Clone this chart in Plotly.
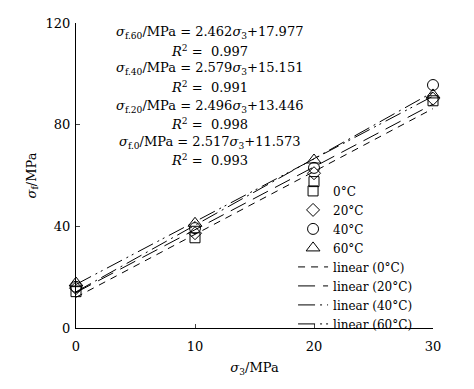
import numpy as np
import plotly.graph_objects as go

sigma3 = [0, 10, 20, 30]
temps = ["0°C", "20°C", "40°C", "60°C"]
sf_0 = [14.3, 35.5, 57.6, 89.4]
sf_20 = [15.7, 37.3, 60.9, 90.2]
sf_40 = [16.2, 39.3, 63.0, 95.6]
sf_60 = [17.7, 41.2, 66.1, 91.7]
series = [sf_0, sf_20, sf_40, sf_60]

eq_labels = [
    "<i>σ</i><sub>f.60</sub>/MPa = 2.462<i>σ</i><sub>3</sub>+17.977",
    "<i>R</i><sup>2</sup> =  0.997",
    "<i>σ</i><sub>f.40</sub>/MPa = 2.579<i>σ</i><sub>3</sub>+15.151",
    "<i>R</i><sup>2</sup> =  0.991",
    "<i>σ</i><sub>f.20</sub>/MPa = 2.496<i>σ</i><sub>3</sub>+13.446",
    "<i>R</i><sup>2</sup> =  0.998",
    "<i>σ</i><sub>f.0</sub>/MPa = 2.517<i>σ</i><sub>3</sub>+11.573",
    "<i>R</i><sup>2</sup> =  0.993",
]

symbols = ["square-open", "diamond-open", "circle-open", "triangle-up-open"]
sizes = [10, 10, 11, 12]
dashes = ["7px,6px", "17px,8px", "17px,5px,2px,5px", "17px,5px,2px,4px,2px,5px"]

FONT = "DejaVu Serif, Liberation Serif, serif"

fig = go.Figure()
for t, ys, sym, sz in zip(temps, series, symbols, sizes):
    fig.add_trace(go.Scatter(
        x=sigma3, y=ys, mode="markers", name=t,
        marker=dict(symbol=sym, size=sz, color="black", line=dict(width=1, color="black")),
        cliponaxis=False,
    ))
for t, ys, d in zip(temps, series, dashes):
    k, b = np.polyfit(sigma3, ys, 1)
    xs = np.array([sigma3[0], sigma3[-1]])
    fig.add_trace(go.Scatter(
        x=xs, y=k * xs + b, mode="lines", name=f"linear ({t})",
        line=dict(color="black", width=1, dash=d),
        cliponaxis=False,
    ))

line_px = [30.7, 49.3, 66.7, 85.0, 104.3, 122.3, 140.7, 158.3]
for txt, p in zip(eq_labels, line_px):
    fig.add_annotation(
        x=0.375, xref="paper", y=(328 - p - 2) / 305, yref="paper",
        text=txt, showarrow=False, xanchor="center", yanchor="middle",
        font=dict(family=FONT, size=13, color="black"),
    )

fig.update_layout(
    width=474, height=389,
    margin=dict(l=68, r=49, t=15, b=69),
    paper_bgcolor="white", plot_bgcolor="white",
    font=dict(family=FONT, size=13, color="black"),
    showlegend=True,
    legend=dict(
        x=0.608, y=0.497, xanchor="left", yanchor="top",
        bgcolor="rgba(0,0,0,0)", borderwidth=0,
        font=dict(family=FONT, size=12, color="black"),
        tracegroupgap=0, itemwidth=30,
    ),
    xaxis=dict(
        range=[0, 30], tickvals=[0, 10, 20, 30], ticks="inside", ticklen=4,
        showline=True, linecolor="black", linewidth=1, showgrid=False, zeroline=False,
        tickfont=dict(family=FONT, size=13), ticklabelstandoff=6, automargin=False,
        title=dict(text="<i>σ</i><sub>3</sub>/MPa", font=dict(family=FONT, size=13), standoff=10),
    ),
    yaxis=dict(
        range=[0, 120], tickvals=[0, 40, 80, 120], ticks="inside", ticklen=4,
        showline=True, linecolor="black", linewidth=1, showgrid=False, zeroline=False,
        tickfont=dict(family=FONT, size=13), ticklabelstandoff=2, automargin=False,
        title=dict(text="<i>σ</i><sub>f</sub>/MPa", font=dict(family=FONT, size=13), standoff=6),
    ),
)

fig.write_html("out.html")
